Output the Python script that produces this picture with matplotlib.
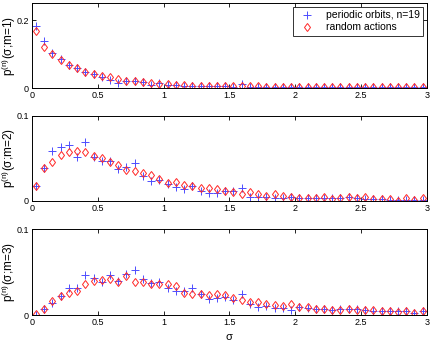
import numpy as np
import matplotlib
matplotlib.use("Agg")
import matplotlib.pyplot as plt

plt.rcParams['font.family'] = ['Liberation Sans', 'DejaVu Sans']
plt.rcParams['mathtext.default'] = 'regular'

# bin centres in sigma
sigma = np.arange(48) * 0.0625 + 0.03125

# m = 1
po_m1 = [0.182, 0.140, 0.105, 0.087, 0.068, 0.059, 0.049, 0.041, 0.032, 0.024,
         0.016, 0.021, 0.020, 0.018, 0.009, 0.015, 0.011, 0.009, 0.008, 0.008,
         0.007, 0.007, 0.006, 0.006, 0.005, 0.012, 0.005, 0.005, 0.005, 0.004,
         0.004, 0.004, 0.004, 0.004, 0.004, 0.004, 0.003, 0.004, 0.003, 0.003,
         0.003, 0.003, 0.003, 0.003, 0.003, 0.003, 0.003, 0.003]
ra_m1 = [0.168, 0.121, 0.102, 0.083, 0.067, 0.061, 0.047, 0.042, 0.035, 0.032,
         0.027, 0.022, 0.020, 0.018, 0.016, 0.013, 0.012, 0.010, 0.009, 0.008,
         0.008, 0.008, 0.007, 0.007, 0.007, 0.006, 0.006, 0.006, 0.005, 0.005,
         0.005, 0.005, 0.005, 0.005, 0.004, 0.004, 0.004, 0.004, 0.004, 0.004,
         0.004, 0.004, 0.004, 0.004, 0.004, 0.004, 0.004, 0.004]

# m = 2
po_m2 = [0.018, 0.039, 0.059, 0.063, 0.065, 0.052, 0.069, 0.051, 0.047, 0.047,
         0.0375, 0.040, 0.044, 0.029, 0.023, 0.024, 0.020, 0.016, 0.014, 0.018,
         0.012, 0.009, 0.009, 0.012, 0.011, 0.015, 0.005, 0.004, 0.005, 0.003,
         0.003, 0.004, 0.003, 0.003, 0.003, 0.003, 0.003, 0.0035, 0.004, 0.003,
         0.0025, 0.002, 0.002, 0.001, 0.001, 0.001, 0.001, 0.001]
ra_m2 = [0.018, 0.038, 0.046, 0.054, 0.057, 0.058, 0.057, 0.053, 0.050, 0.045,
         0.042, 0.036, 0.035, 0.033, 0.030, 0.026, 0.021, 0.022, 0.019, 0.018,
         0.015, 0.015, 0.014, 0.012, 0.010, 0.008, 0.010, 0.008, 0.006, 0.008,
         0.006, 0.004, 0.0035, 0.003, 0.003, 0.004, 0.0025, 0.003, 0.004, 0.003,
         0.004, 0.002, 0.002, 0.002, 0.0, 0.003, 0.001, 0.003]

# m = 3
po_m3 = [0.0, 0.007, 0.014, 0.022, 0.032, 0.031, 0.047, 0.043, 0.038, 0.047,
         0.040, 0.0475, 0.052, 0.042, 0.037, 0.0385, 0.031, 0.028, 0.028, 0.031,
         0.024, 0.019, 0.020, 0.021, 0.0175, 0.025, 0.0135, 0.009, 0.0105, 0.008,
         0.008, 0.0065, 0.0097, 0.008, 0.0066, 0.0066, 0.0062, 0.0066, 0.0074, 0.0066,
         0.0054, 0.005, 0.005, 0.0047, 0.005, 0.0047, 0.0027, 0.0047]
ra_m3 = [0.001, 0.007, 0.016, 0.022, 0.026, 0.028, 0.036, 0.040, 0.041, 0.042,
         0.039, 0.046, 0.038, 0.038, 0.036, 0.036, 0.036, 0.034, 0.026, 0.0245,
         0.024, 0.023, 0.0245, 0.023, 0.0195, 0.0175, 0.0155, 0.015, 0.0135, 0.012,
         0.0105, 0.0135, 0.0097, 0.009, 0.007, 0.0066, 0.0062, 0.0054, 0.0066, 0.0058,
         0.0058, 0.0058, 0.0047, 0.005, 0.0031, 0.005, 0.0023, 0.005]

panels = [(po_m1, ra_m1, 0.25, [0, 0.2], ['0', '0.2'], 1),
          (po_m2, ra_m2, 0.1, [0, 0.1], ['0', '0.1'], 2),
          (po_m3, ra_m3, 0.1, [0, 0.1], ['0', '0.1'], 3)]

fig = plt.figure(figsize=(4.36, 3.41), dpi=100)
boxes = [[0.073, 0.741, 0.906, 0.250],
         [0.073, 0.411, 0.906, 0.250],
         [0.073, 0.076, 0.906, 0.2516]]

blue = (0.3, 0.3, 1.0)
red = (1.0, 0.15, 0.15)

for box, (po, ra, ymax, yt, ytl, m) in zip(boxes, panels):
    ax = fig.add_axes(box)
    ax.plot(sigma, po, '+', color=blue, ms=5.5, mew=0.7, label='periodic orbits, n=19')
    ax.plot(sigma, ra, 'd', mfc='none', mec=red, ms=4.5, mew=0.7, label='random actions')
    ax.set_xlim(0, 3)
    ax.set_ylim(0, ymax)
    ax.set_xticks([0, 0.5, 1, 1.5, 2, 2.5, 3])
    ax.set_xticklabels(['0', '0.5', '1', '1.5', '2', '2.5', '3'])
    ax.set_yticks(yt)
    ax.set_yticklabels(ytl)
    ax.tick_params(direction='in', top=True, right=True, labelsize=6.5, length=3,
                   width=0.6, pad=2)
    for s in ax.spines.values():
        s.set_linewidth(0.7)
    ax.set_ylabel('p$^{(n)}$(σ;m=%d)' % m, fontsize=8.5)
    ax.yaxis.set_label_coords(-0.036, 0.5)
    if m == 1:
        leg = ax.legend(loc='upper right', fontsize=7.5, frameon=True,
                        fancybox=False, edgecolor='black', borderpad=0.3,
                        handletextpad=0.8, borderaxespad=0.4, labelspacing=0.2)
        leg.get_frame().set_linewidth(0.7)
    if m == 3:
        ax.set_xlabel('σ', fontsize=8, labelpad=4)

fig.savefig('out.png', dpi=100)
